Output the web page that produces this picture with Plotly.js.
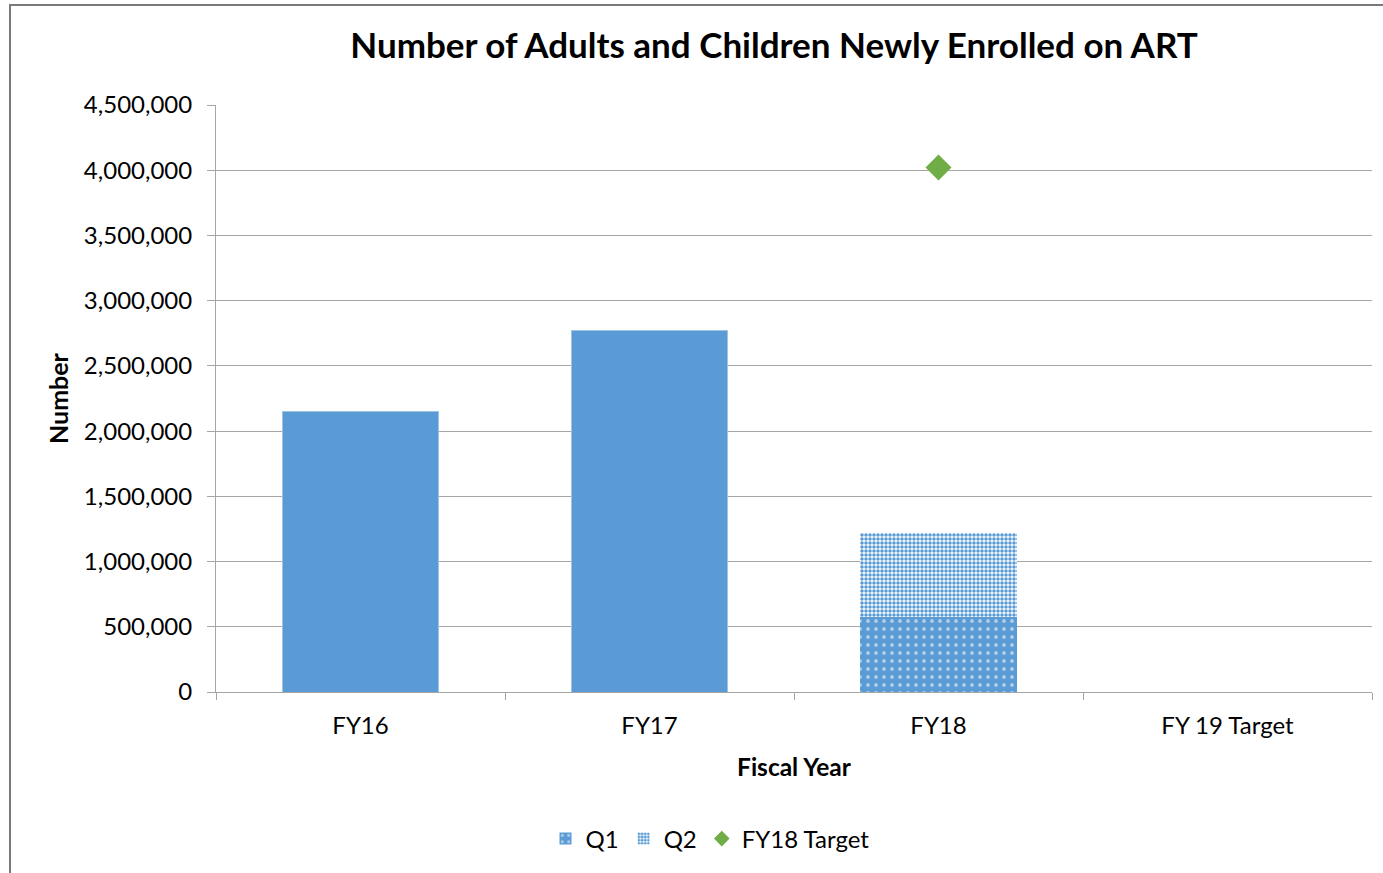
<!DOCTYPE html>
<html><head><meta charset="utf-8">
<script src="https://cdn.plot.ly/plotly-3.0.1.min.js"></script>
<style>html,body{margin:0;padding:0;background:#fff;}#chart{width:1383px;height:873px;}</style>
</head><body><div id="chart"></div>
<script>
const categories = ["FY16", "FY17", "FY18", "FY 19 Target"];
const annualTotals = [2153000, 2768000, null, null];
const q1Values = [null, null, 574000, null];
const q2Values = [null, null, 646000, null];
const targetCategories = ["FY18"];
const targetValues = [4021000];
const yTickVals = [0, 500000, 1000000, 1500000, 2000000, 2500000, 3000000, 3500000, 4000000, 4500000];
const yTickText = ["0", "500,000", "1,000,000", "1,500,000", "2,000,000", "2,500,000", "3,000,000", "3,500,000", "4,000,000", "4,500,000"];

const BLUE = "#5b9bd5";
const FONT = "Lato, 'Open Sans', sans-serif";
const W = 1383, H = 873, L = 216, R = 11, T = 105, B = 181;
const pw = W - L - R, ph = H - T - B;
const px = x => (x - L) / pw;
const py = y => (H - B - y) / ph;

const traces = [
  {type: "bar", x: categories, y: annualTotals, name: "Total", showlegend: false,
   marker: {color: BLUE, line: {color: "#9dc3e6", width: 1}}, hoverinfo: "x+y"},
  {type: "bar", x: categories, y: q1Values, name: "Q1",
   marker: {color: BLUE, line: {width: 0},
     pattern: {shape: ".", fillmode: "overlay", fgcolor: "#ffffff", size: 8, solidity: 0.18}}},
  {type: "bar", x: categories, y: q2Values, name: "Q2",
   marker: {color: BLUE, line: {width: 0},
     pattern: {shape: ".", fillmode: "replace", bgcolor: "#ffffff", fgcolor: BLUE, size: 4, solidity: 0.62}}},
  {type: "scatter", mode: "markers", x: targetCategories, y: targetValues, name: "FY18 Target",
   marker: {symbol: "diamond", size: 20, color: "#70ad47"}}
];

const layout = {
  width: W, height: H,
  margin: {l: L, r: R, t: T, b: B, pad: 0},
  paper_bgcolor: "#ffffff", plot_bgcolor: "#ffffff",
  barmode: "stack", bargap: 0.457,
  font: {family: FONT, size: 24, color: "#000000"},
  title: {text: "<b>Number of Adults and Children Newly Enrolled on ART</b>",
    font: {family: FONT, size: 35, color: "#000000"},
    x: px(774), xanchor: "center", xref: "paper", y: 1 - 46 / H, yanchor: "middle"},
  xaxis: {
    categoryorder: "array", categoryarray: categories,
    title: {text: "<b>Fiscal Year</b>", font: {family: FONT, size: 24.5}, standoff: 21},
    showline: true, linecolor: "#a6a6a6", linewidth: 1,
    ticks: "outside", tickson: "boundaries", ticklen: 7, tickcolor: "#a6a6a6",
    ticklabelstandoff: 12,
    tickfont: {family: FONT, size: 24}, showgrid: false, zeroline: false, fixedrange: true
  },
  yaxis: {
    range: [0, 4500000], tickvals: yTickVals, ticktext: yTickText,
    title: {text: "<b>Number</b>", font: {family: FONT, size: 25}, standoff: 8},
    showline: true, linecolor: "#a6a6a6", linewidth: 1,
    ticks: "outside", ticklen: 8, tickcolor: "#a6a6a6",
    ticklabelstandoff: 10,
    showgrid: true, gridcolor: "#a6a6a6", gridwidth: 1, zeroline: false,
    tickfont: {family: FONT, size: 24}, fixedrange: true
  },
  legend: {orientation: "h", x: px(710), xanchor: "center", y: py(839), yanchor: "middle",
    font: {family: FONT, size: 24}, itemsizing: "constant", traceorder: "normal", itemwidth: 30},
  shapes: [
    {type: "rect", xref: "paper", yref: "paper",
     x0: px(10), x1: px(W + 50), y0: py(H + 50), y1: py(5),
     line: {color: "#7a7a7a", width: 2}, fillcolor: "rgba(0,0,0,0)", layer: "below"}
  ],
  showlegend: true
};

Plotly.newPlot("chart", traces, layout, {displayModeBar: false, staticPlot: true});
</script></body></html>
